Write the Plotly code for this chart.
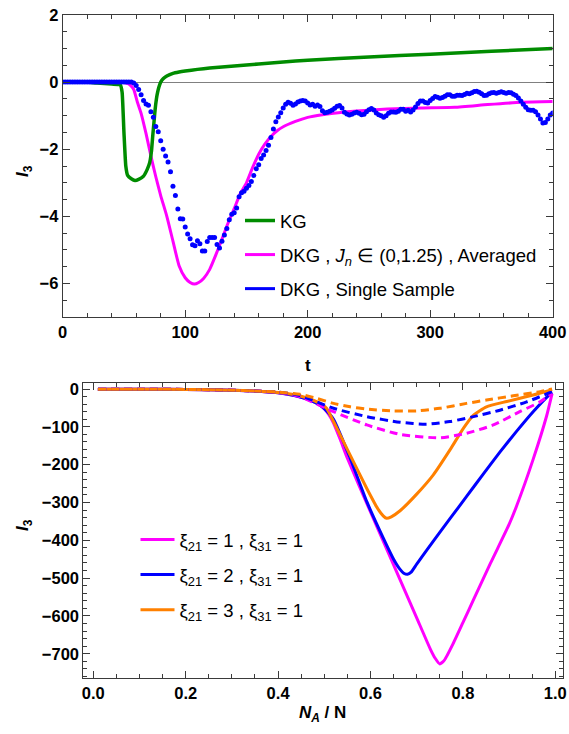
import plotly.graph_objects as go

W, H = 569, 734

# ---------------- top panel data ----------------
kg_t = [0, 20, 28, 40, 47, 48.5, 50, 51.5, 53, 56, 59, 62, 66, 69, 71, 72.5, 73.5, 74.5, 75.5, 76.5,
        77.5, 78.5, 80, 82, 85, 90, 95, 100, 110, 120, 140, 160, 180, 200, 250, 300, 350, 400]
kg_i = [0, 0, -0.03, -0.06, -0.08, -0.3, -1.5, -2.5, -2.78, -2.88, -2.93, -2.9, -2.8, -2.6, -2.4,
        -2.05, -1.6, -1.2, -0.8, -0.5, -0.3, -0.15, 0.0, 0.1, 0.18, 0.26, 0.3, 0.33, 0.38, 0.42,
        0.48, 0.54, 0.6, 0.65, 0.75, 0.83, 0.92, 1.0]

dkg_t = [0, 30, 45, 50, 53, 56, 58, 61, 64, 68, 72, 76, 80, 85, 90, 95, 100, 104, 107.5, 111, 115,
         120, 125, 130, 135, 140, 145, 150, 155, 160, 165, 170, 175, 180, 190, 200, 212, 225, 240,
         265, 293, 320, 347, 375, 400]
dkg_i = [0, 0, 0, -0.01, -0.04, -0.12, -0.22, -0.6, -0.93, -1.53, -2.2, -2.82, -3.38, -4.0, -4.74,
         -5.47, -5.83, -5.97, -6.02, -5.97, -5.85, -5.58, -5.15, -4.68, -4.2, -3.77, -3.32, -3.0,
         -2.55, -2.15, -1.85, -1.62, -1.45, -1.33, -1.17, -1.05, -0.97, -0.91, -0.86, -0.80, -0.77,
         -0.75, -0.67, -0.6, -0.58]

single_t = list(range(0, 401, 2))
single_i = ([0.0] * 29 +
            [-0.03, -0.10, -0.22, -0.38, -0.55, -0.65, -0.69, -0.88, -1.05, -1.32,
             -1.48, -1.75, -2.00, -2.20, -2.38, -2.67, -3.10, -3.38, -3.78, -4.07,
             -4.08, -4.32, -4.53, -4.67, -4.85, -4.88, -4.73, -4.82, -5.03, -5.03,
             -4.75, -4.63, -4.63, -4.63, -4.84, -4.94, -4.74, -4.56, -4.36, -4.10,
             -3.94, -3.89, -3.75, -3.42, -3.30, -3.25, -3.16, -3.08, -2.96, -2.78,
             -2.58, -2.46, -2.28, -2.17, -2.04, -1.88, -1.65, -1.40, -1.18, -1.04,
             -0.91, -0.77, -0.66, -0.60, -0.63, -0.69, -0.65, -0.59, -0.56, -0.55,
             -0.56, -0.62, -0.68, -0.66, -0.72, -0.68, -0.73, -0.85, -0.91, -0.90,
             -0.87, -0.83, -0.78, -0.72, -0.70, -0.77, -0.90, -0.95, -0.98, -0.96,
             -0.92, -0.90, -0.93, -0.97, -0.96, -0.88, -0.82, -0.79, -0.83, -0.92,
             -0.97, -1.00, -1.05, -1.00, -0.93, -0.89, -0.89, -0.90, -0.87, -0.81,
             -0.81, -0.87, -0.84, -0.89, -0.83, -0.74, -0.64, -0.56, -0.56, -0.61,
             -0.62, -0.55, -0.49, -0.43, -0.45, -0.48, -0.46, -0.42, -0.38, -0.38,
             -0.42, -0.42, -0.39, -0.39, -0.40, -0.37, -0.33, -0.35, -0.32, -0.28,
             -0.27, -0.30, -0.35, -0.40, -0.39, -0.35, -0.32, -0.31, -0.33, -0.31,
             -0.29, -0.31, -0.33, -0.31, -0.32, -0.36, -0.40, -0.47, -0.56, -0.66,
             -0.75, -0.82, -0.84, -0.84, -0.88, -0.98, -1.10, -1.22, -1.20, -1.10,
             -0.98, -0.92])

top_xticks = [0, 100, 200, 300, 400]
top_yticks = [2, 0, -2, -4, -6]

# ---------------- bottom panel data ----------------
mag_x = [0.01, 0.1, 0.2, 0.3, 0.35, 0.4, 0.43, 0.45, 0.47, 0.49, 0.5, 0.51, 0.52, 0.535, 0.55, 0.6,
         0.65, 0.7, 0.73, 0.74, 0.75, 0.76, 0.779, 0.8, 0.823, 0.86, 0.9, 0.916, 0.952, 0.981, 0.993]
mag_y = [-0.5, -0.7, -1, -3, -5, -10, -16, -22, -30, -42, -52, -68, -90, -135, -183, -325, -465,
         -605, -689, -712, -727, -717, -673, -618, -557, -460, -358, -310, -186, -72, -12]

blu_x = [0.01, 0.1, 0.2, 0.3, 0.35, 0.4, 0.43, 0.45, 0.47, 0.49, 0.5, 0.52, 0.556, 0.592, 0.628,
         0.65, 0.664, 0.672, 0.68, 0.688, 0.7, 0.736, 0.772, 0.808, 0.844, 0.88, 0.916, 0.952, 0.988,
         0.993]
blu_y = [-0.5, -0.7, -1, -3, -5, -10, -16, -22, -30, -42, -52, -80, -183, -298, -395, -450, -477,
         -487, -490, -484, -463, -402, -343, -284, -225, -167, -112, -60, -14, -9]

org_x = [0.01, 0.1, 0.2, 0.3, 0.35, 0.4, 0.43, 0.45, 0.47, 0.491, 0.505, 0.52, 0.556, 0.592, 0.615,
         0.628, 0.635, 0.645, 0.664, 0.7, 0.736, 0.772, 0.801, 0.823, 0.851, 0.895, 0.952, 0.993]
org_y = [-0.5, -0.7, -1, -3, -5, -9, -14, -19, -27, -38, -51, -86, -175, -263, -315, -336, -342,
         -338, -322, -278, -227, -161, -104, -69, -47, -33, -16, -2]

magd_x = [0.01, 0.1, 0.2, 0.3, 0.35, 0.4, 0.447, 0.52, 0.592, 0.664, 0.75, 0.808, 0.866, 0.923,
          0.967, 0.993]
magd_y = [-0.5, -0.7, -1, -3, -5, -9, -20, -60, -95, -120, -129, -117, -95, -60, -34, -11]

blud_x = [0.01, 0.1, 0.2, 0.3, 0.35, 0.4, 0.447, 0.52, 0.592, 0.664, 0.721, 0.772, 0.823, 0.88,
          0.938, 0.993]
blud_y = [-0.5, -0.7, -1, -3, -5, -8, -17, -51, -73, -88, -93, -86, -73, -56, -34, -7]

orgd_x = [0.01, 0.1, 0.2, 0.3, 0.35, 0.4, 0.447, 0.484, 0.52, 0.556, 0.592, 0.649, 0.7, 0.75,
          0.808, 0.851, 0.909, 0.967, 0.993]
orgd_y = [-0.5, -0.7, -1, -3, -5, -8, -14, -25, -38, -47, -53, -58, -58, -51, -38, -29, -18, -7, 0]

bot_xticks = [0.0, 0.2, 0.4, 0.6, 0.8, 1.0]
bot_yticks = [0, -100, -200, -300, -400, -500, -600, -700]

GREEN = "rgb(0,140,0)"
MAGENTA = "#FF00FF"
BLUE = "#0000FF"
ORANGE = "#FF8000"
FRAME = "#3a3a3a"
FONT = "Liberation Sans"

fig = go.Figure()

# top panel
fig.add_trace(go.Scatter(x=dkg_t, y=dkg_i, mode="lines",
                         line=dict(color=MAGENTA, width=3, shape="spline", smoothing=0.5),
                         name="DKG , <i>J<sub>n</sub></i> ∈ (0,1.25) , Averaged",
                         legend="legend", legendrank=2, legendgroup="b", xaxis="x", yaxis="y"))
fig.add_trace(go.Scatter(x=kg_t, y=kg_i, mode="lines",
                         line=dict(color=GREEN, width=3.5, shape="spline", smoothing=0.4),
                         name="KG", legend="legend", legendrank=1, legendgroup="a",
                         xaxis="x", yaxis="y"))
fig.add_trace(go.Scatter(x=single_t, y=single_i, mode="markers",
                         marker=dict(color=BLUE, size=5), showlegend=False,
                         xaxis="x", yaxis="y"))
fig.add_trace(go.Scatter(x=[None], y=[None], mode="lines", line=dict(color=BLUE, width=3),
                         name="DKG , Single Sample", legend="legend", legendrank=3,
                         legendgroup="c", xaxis="x", yaxis="y"))

# bottom panel
for xs, ys, col, nm, rk in [(mag_x, mag_y, MAGENTA, "ξ<sub>21</sub> = 1 , ξ<sub>31</sub> = 1", 1),
                            (blu_x, blu_y, BLUE, "ξ<sub>21</sub> = 2 , ξ<sub>31</sub> = 1", 2),
                            (org_x, org_y, ORANGE, "ξ<sub>21</sub> = 3 , ξ<sub>31</sub> = 1", 3)]:
    fig.add_trace(go.Scatter(x=xs, y=ys, mode="lines",
                             line=dict(color=col, width=3, shape="spline", smoothing=0.5),
                             name=nm, legend="legend2", legendrank=rk, legendgroup="g%d" % rk,
                             xaxis="x2", yaxis="y2"))
for xs, ys, col in [(magd_x, magd_y, MAGENTA), (blud_x, blud_y, BLUE), (orgd_x, orgd_y, ORANGE)]:
    fig.add_trace(go.Scatter(x=xs, y=ys, mode="lines",
                             line=dict(color=col, width=3, dash="8px,5px", shape="spline",
                                       smoothing=0.6),
                             showlegend=False, xaxis="x2", yaxis="y2"))

tickfont = dict(family=FONT, size=16.5, color="black", weight="bold")


def axis(**kw):
    d = dict(showline=True, linecolor=FRAME, linewidth=1, mirror="allticks", ticks="inside",
             ticklen=7, tickcolor=FRAME, tickwidth=1, showgrid=False, tickfont=tickfont,
             zeroline=False, automargin=False)
    d.update(kw)
    return d


fig.update_layout(
    template="none",
    width=W, height=H, margin=dict(l=0, r=0, t=0, b=0, pad=0), autosize=False,
    paper_bgcolor="white", plot_bgcolor="white",
    xaxis=axis(domain=[62.7 / W, 552.7 / W], range=[0, 400], tickvals=top_xticks,
               minor=dict(dtick=20, ticklen=4, tickcolor=FRAME, ticks="inside"),
               anchor="y"),
    yaxis=axis(domain=[1 - 317 / H, 1 - 15 / H], range=[-7, 2], tickvals=top_yticks,
               minor=dict(dtick=0.5, ticklen=4, tickcolor=FRAME, ticks="inside"),
               anchor="x", zeroline=True, zerolinecolor="#808080", zerolinewidth=1),
    xaxis2=axis(domain=[83.3 / W, 563.3 / W], range=[-0.0216, 1.0173], tickvals=bot_xticks,
                tickformat=".1f",
                minor=dict(dtick=0.05, ticklen=4, tickcolor=FRAME, ticks="inside"),
                anchor="y2"),
    yaxis2=axis(domain=[1 - 678.3 / H, 1 - 382.7 / H], range=[-765, 16.7], tickvals=bot_yticks,
                minor=dict(dtick=20, ticklen=4, tickcolor=FRAME, ticks="inside"),
                anchor="x2"),
    legend=dict(x=240 / W, y=1 - 202 / H, xanchor="left", yanchor="top",
                bgcolor="rgba(0,0,0,0)", font=dict(family=FONT, size=18.5, color="black"),
                tracegroupgap=7, itemwidth=30, borderwidth=0),
    legend2=dict(x=135.5 / W, y=1 - 521 / H, xanchor="left", yanchor="top",
                 bgcolor="rgba(0,0,0,0)", font=dict(family=FONT, size=18.5, color="black"),
                 tracegroupgap=8, itemwidth=34, borderwidth=0),
    annotations=[
        dict(text="<b>t</b>", x=308 / W, y=1 - 366 / H, xref="paper", yref="paper",
             showarrow=False, font=dict(family=FONT, size=17, color="black")),
        dict(text="<b><i>I</i><sub>3</sub></b>", x=11 / W, y=1 - 163 / H, xref="paper",
             yref="paper", showarrow=False, textangle=-90,
             font=dict(family=FONT, size=17, color="black")),
        dict(text="<b><i>N<sub>A</sub></i> / N</b>", x=322 / W, y=1 - 727 / H, xref="paper",
             yref="paper", showarrow=False, font=dict(family=FONT, size=17, color="black")),
        dict(text="<b><i>I</i><sub>3</sub></b>", x=11 / W, y=1 - 533 / H, xref="paper",
             yref="paper", showarrow=False, textangle=-90,
             font=dict(family=FONT, size=17, color="black")),
    ],
)

fig.write_html(
    "out.html",
    config={"displayModeBar": False},
    post_script=("document.documentElement.style.margin='0px';"
                 "document.body.style.margin='0px';"
                 "document.documentElement.style.overflow='hidden';"
                 "document.body.style.overflow='hidden';"),
)
